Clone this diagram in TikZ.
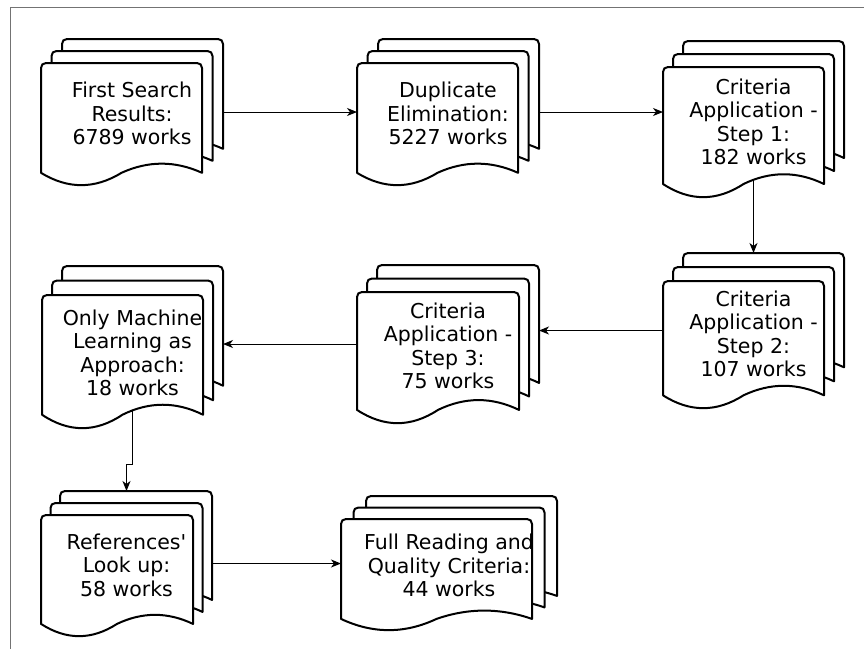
\documentclass[tikz,border=0pt]{standalone}
\usepackage{fontspec}
\setmainfont{DejaVu Sans}
\usetikzlibrary{arrows.meta,calc}

\tikzset{
  sheet/.style={draw=black, fill=white, line width=2pt, line join=round},
  shapebox/.style={inner sep=0pt, outer sep=0pt},
  caption/.style={align=center, font=\fontsize{20.5}{23.4}\selectfont, inner sep=0pt},
  link/.style={draw=black, line width=1pt, -{Stealth[length=10pt,width=8pt,inset=3pt]}},
  frameline/.style={draw=black!55, line width=1pt},
}

% one sheet of paper: left, top, width, height (y grows downward)
\newcommand\sheetat[4]{%
  \pgfmathsetmacro\sx{#1}\pgfmathsetmacro\sy{#2}%
  \pgfmathsetmacro\sw{#3}\pgfmathsetmacro\sh{#4}%
  \filldraw[sheet] (\sx,\sy+0.9*\sh) -- (\sx,\sy+5)
    .. controls (\sx,\sy+2) and (\sx+2,\sy) .. (\sx+5,\sy)
    -- (\sx+\sw-5,\sy)
    .. controls (\sx+\sw-2,\sy) and (\sx+\sw,\sy+2) .. (\sx+\sw,\sy+5)
    -- (\sx+\sw,\sy+0.9*\sh)
    .. controls (\sx+0.8333*\sw,\sy+0.80*\sh) and (\sx+0.6667*\sw,\sy+0.80*\sh) .. (\sx+0.5*\sw,\sy+0.9*\sh)
    .. controls (\sx+0.3333*\sw,\sy+1.035*\sh) and (\sx+0.1667*\sw,\sy+1.035*\sh) .. (\sx,\sy+0.9*\sh)
    -- cycle;
}

% stack of three sheets: name, left, top, width, height, dx, dy, text shift, text
\newcommand\multidoc[9]{%
  \pgfmathsetmacro\mdw{#4-2*#6}%
  \pgfmathsetmacro\mdh{#5-2*#7}%
  \sheetat{#2+2*#6}{#3}{\mdw}{\mdh}%
  \sheetat{#2+#6}{#3+#7}{\mdw}{\mdh}%
  \sheetat{#2}{#3+2*#7}{\mdw}{\mdh}%
  \node[shapebox, minimum width=#4pt, minimum height=#5pt] (#1) at (#2+#4/2, #3+#5/2) {};%
  \coordinate (#1-wave) at (#2+#4/2, #3+2*#7+0.87*\mdh);%
  \node[caption] (#1-text) at (#2+#4/2, #3+#5/2+#8) {#9};%
}

\begin{document}
\begin{tikzpicture}[x=1pt, y=-1pt]
  \useasboundingbox (0,0) rectangle (864,649);
  \fill[white] (0,0) rectangle (864,649);

  % frame
  \draw[frameline] (864,7.5) -- (10.5,7.5) -- (10.5,649);

  % documents
  \multidoc{fs}{41}{39}{182}{146}{10.5}{12}{1.5}{First Search\\Results:\\6789 works}
  \multidoc{de}{357}{39}{182}{146}{10.5}{12}{1.5}{Duplicate\\Elimination:\\5227 works}
  \multidoc{s1}{663}{41}{181}{156}{10}{13}{3}{Criteria\\Application -\\Step 1:\\182 works}
  \multidoc{s2}{663}{253}{181}{155}{10}{14}{3.5}{Criteria\\Application -\\Step 2:\\107 works}
  \multidoc{s3}{357}{265}{182}{158}{10}{13.5}{2}{Criteria\\Application -\\Step 3:\\75 works}
  \multidoc{ml}{42}{266}{181}{162}{10}{14.5}{6}{Only Machine\\Learning as\\Approach:\\18 works}
  \multidoc{rf}{41}{491}{171}{145}{9.5}{12}{1.5}{References\textquotesingle\\Look up:\\58 works}
  \multidoc{fr}{341}{496}{216}{134}{12.5}{11.5}{2.5}{Full Reading and\\Quality Criteria:\\44 works}

  % flow
  \coordinate (jog) at (0,464);
  \draw[link] (fs.east) -- (fs.east -| de.west);
  \draw[link] (de.east) -- (de.east -| s1.west);
  \draw[link] (s1-wave) -- (s2.north);
  \draw[link] (s2.west) -- (s2.west -| s3.east);
  \draw[link] (s3.west) -- (s3.west -| ml.east);
  \draw[link] (ml-wave) -- (ml-wave |- jog) -| (rf.north);
  \draw[link] (rf.east) -- (rf.east -| fr.west);
\end{tikzpicture}
\end{document}
